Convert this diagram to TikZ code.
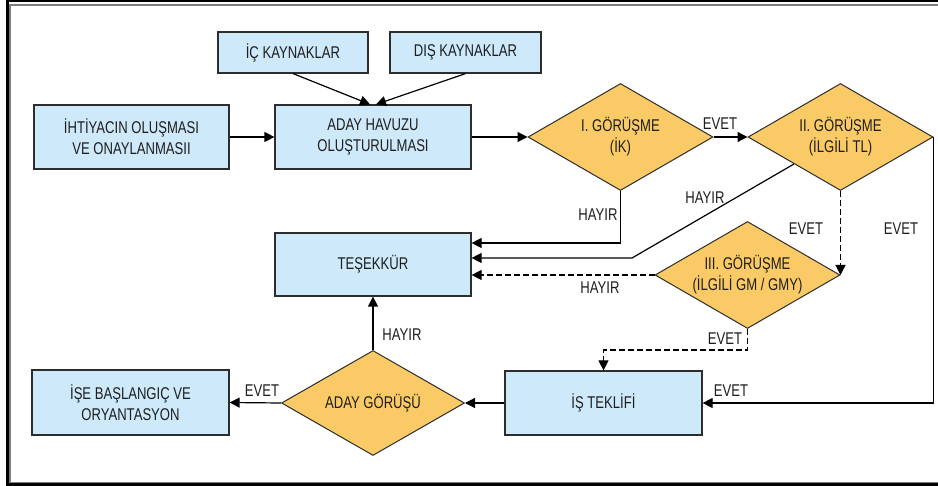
\documentclass[tikz,border=0pt]{standalone}
\usepackage{fontspec}
\setmainfont{Liberation Sans}[FakeStretch=0.77]
\usetikzlibrary{shapes.geometric,arrows.meta}
\definecolor{boxblue}{RGB}{205,233,250}
\definecolor{decorange}{RGB}{250,202,102}
\definecolor{edgecol}{RGB}{45,45,45}
\definecolor{textcol}{RGB}{30,30,30}
\definecolor{framegray}{RGB}{125,125,125}

\begin{document}
\begin{tikzpicture}[x=1pt,y=-1pt,
  font=\fontsize{17}{21}\selectfont,
  box/.style={draw=edgecol, line width=1.2pt, fill=boxblue, rectangle,
    inner sep=0pt, align=center, text=textcol,
    minimum width=196pt, minimum height=64pt},
  dec/.style={draw=edgecol, line width=1pt, fill=decorange, diamond,
    aspect=1.73, inner sep=0pt, minimum width=185pt, minimum height=107pt,
    align=center, text=textcol},
  flow/.style={line width=1.2pt, draw=black, -{Triangle[length=10pt,width=10pt]}},
  opt/.style={flow, dash pattern=on 6pt off 3pt},
  lbl/.style={inner sep=0pt, text=textcol}
]
\useasboundingbox (0,0) rectangle (938,486);

% frame
\draw[line width=3pt, black] (7.5,0) -- (7.5,486);
\draw[line width=2.5pt, black] (6,1.2) -- (938,1.2);
\draw[line width=2.6pt, black] (6,484.7) -- (938,484.7);
\draw[line width=1.5pt, framegray] (10,4.8) -- (938,4.8);
\draw[line width=1.5pt, framegray] (10,4) -- (10,483);
\draw[line width=1.5pt, framegray] (9,482.3) -- (938,482.3);

% boxes
\node[box, minimum width=150pt, minimum height=41pt] (ic) at (293,52.5) {İÇ KAYNAKLAR};
\node[box, minimum width=151pt, minimum height=41pt] (dis) at (465.5,52.5) {DIŞ KAYNAKLAR};
\node[box, minimum width=195pt] (iht) at (131.5,137) {İHTİYACIN OLUŞMASI\\VE ONAYLANMASII};
\node[box] (ah) at (373,137) {ADAY HAVUZU\\OLUŞTURULMASI};
\node[box, minimum height=63pt] (tes) at (373,264.5) {TEŞEKKÜR};
\node[box, minimum width=197pt] (is) at (603.5,403) {İŞ TEKLİFİ};
\node[box, minimum width=197pt, minimum height=65pt] (ise) at (130.5,402.5) {İŞE BAŞLANGIÇ VE\\ORYANTASYON};

% decisions
\node[dec] (d1) at (620.5,137) {I. GÖRÜŞME\\(İK)};
\node[dec] (d2) at (840.5,137) {II. GÖRÜŞME\\(İLGİLİ TL)};
\node[dec] (d3) at (747.5,275) {III. GÖRÜŞME\\(İLGİLİ GM / GMY)};
\node[dec, minimum width=183pt, minimum height=105pt] (ag) at (373,403) {ADAY GÖRÜŞÜ};

% connectors
\draw[flow] (ic.south) -- ([xshift=-3pt]ah.north);
\draw[flow] (dis.south) -- ([xshift=3pt]ah.north);
\draw[flow] (iht.east) -- (ah.west);
\draw[flow] (ah.east) -- (d1.west);
\draw[flow] (d1.east) -- (d2.west);
\draw[flow] (d1.south) |- ([yshift=21.5pt]tes.east);
\coordinate (bend2) at (632,258);
\draw[flow] (d2.south west) -- (bend2) -- ([yshift=6.5pt]tes.east);
\draw[opt] (d2.south) -- (d3.east);
\draw[opt] (d3.west) -- (d3.west -| tes.east);
\draw[flow] (d2.east) |- (is.east);
\coordinate (jog3) at (747.5,350);
\draw[opt] (d3.south) -- (jog3) -| (is.north);
\draw[flow] (is.west) -- (ag.east);
\draw[flow] (ag.north) -- (tes.south);
\draw[flow] (ag.west) -- (ise.east);

% branch labels
\node[lbl] (l1) at (720,124) {EVET};
\node[lbl] (l2) at (598,215) {HAYIR};
\node[lbl] (l3) at (705,198) {HAYIR};
\node[lbl] (l4) at (806,229) {EVET};
\node[lbl] (l5) at (901,229) {EVET};
\node[lbl] (l6) at (600,288) {HAYIR};
\node[lbl] (l7) at (725,339) {EVET};
\node[lbl] (l8) at (731,391) {EVET};
\node[lbl] (l9) at (402,335) {HAYIR};
\node[lbl] (l10) at (262,391) {EVET};
\end{tikzpicture}
\end{document}
